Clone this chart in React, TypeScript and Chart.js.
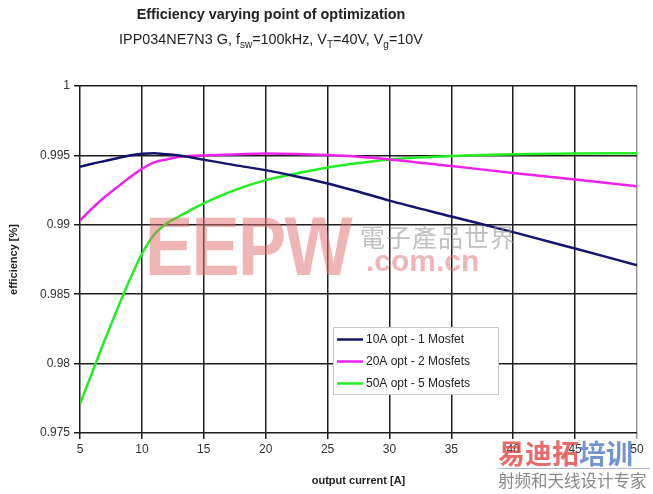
import React, { useEffect, useRef } from "react";
import { Chart, registerables } from "chart.js";

Chart.register(...registerables);

// Output current [A]
const currents = [5, 6, 7, 8, 9, 10, 11, 12, 13, 14, 15, 17.5, 20, 22.5, 25, 27.5, 30, 35, 40, 45, 50];
// 10A opt - 1 Mosfet
const opt10A = [0.99418, 0.9944, 0.9946, 0.9948, 0.995, 0.99512, 0.99515, 0.99508, 0.995, 0.99485, 0.99469, 0.9943, 0.99394, 0.99348, 0.99298, 0.99238, 0.99174, 0.9906, 0.98947, 0.98829, 0.98709];
// 20A opt - 2 Mosfets
const opt20A = [0.99031, 0.9912, 0.992, 0.9927, 0.9934, 0.99403, 0.9945, 0.9947, 0.9949, 0.99497, 0.995, 0.99507, 0.99514, 0.9951, 0.99502, 0.9949, 0.99471, 0.99423, 0.99374, 0.99327, 0.99278];
// 50A opt - 5 Mosfets
const opt50A = [0.9771, 0.9794, 0.9817, 0.9839, 0.986, 0.9879, 0.9893, 0.9901, 0.9906, 0.9911, 0.99155, 0.9925, 0.99322, 0.9937, 0.99413, 0.99445, 0.99471, 0.99495, 0.99509, 0.99514, 0.99515];

const seriesLabels = ["10A opt - 1 Mosfet", "20A opt - 2 Mosfets", "50A opt - 5 Mosfets"];
const seriesColors = ["#14146e", "#ee22ee", "#22ee22"];

const xTicks = [5, 10, 15, 20, 25, 30, 35, 40, 45, 50];
const yTicks = [0.975, 0.98, 0.985, 0.99, 0.995, 1];

const FONT = "'Liberation Sans', Arial, sans-serif";

const legendPlugin = {
  id: "boxLegend",
  afterDraw(chart: any) {
    const ctx = chart.ctx;
    const x = 333;
    const y = 327;
    const w = 165;
    const h = 67;
    ctx.save();
    ctx.fillStyle = "#ffffff";
    ctx.fillRect(x, y, w, h);
    ctx.strokeStyle = "#c8c8c8";
    ctx.lineWidth = 1;
    ctx.strokeRect(x + 0.5, y + 0.5, w, h);
    ctx.font = `12px ${FONT}`;
    ctx.textBaseline = "middle";
    chart.data.datasets.forEach((ds: any, i: number) => {
      const cy = y + 12.5 + i * 22;
      ctx.strokeStyle = ds.borderColor;
      ctx.lineWidth = 2.5;
      ctx.beginPath();
      ctx.moveTo(x + 4, cy);
      ctx.lineTo(x + 30, cy);
      ctx.stroke();
      ctx.fillStyle = "#222";
      ctx.fillText(ds.label, x + 33, cy);
    });
    ctx.restore();
  },
};

export default function App() {
  const canvasRef = useRef<HTMLCanvasElement | null>(null);

  useEffect(() => {
    if (!canvasRef.current) return;
    const mk = (vals: number[]) => currents.map((c, i) => ({ x: c, y: vals[i] }));
    const chart = new Chart(canvasRef.current, {
      type: "line",
      data: {
        datasets: [opt10A, opt20A, opt50A].map((vals, i) => ({
          label: seriesLabels[i],
          data: mk(vals),
          borderColor: seriesColors[i],
          backgroundColor: seriesColors[i],
          borderWidth: 2.5,
          pointRadius: 0,
          cubicInterpolationMode: "monotone" as const,
          fill: false,
        })),
      },
      options: {
        responsive: false,
        animation: false,
        layout: { padding: { left: 0, top: 86, right: 16, bottom: 0 } },
        plugins: {
          legend: { display: false },
          title: { display: false },
          tooltip: { enabled: false },
        },
        scales: {
          x: {
            type: "linear",
            min: 5,
            max: 50,
            afterBuildTicks: (s: any) => {
              s.ticks = xTicks.map((v) => ({ value: v }));
            },
            afterFit: (s: any) => {
              s.height = 61;
            },
            ticks: {
              color: "#333",
              font: { family: FONT, size: 12 },
              padding: 3,
              maxRotation: 0,
              callback: (v: any) => String(v),
            },
            grid: {
              color: (c: any) => (c.tick && c.tick.value === 50 ? "#9a9a9a" : "#1e1e1e"),
              lineWidth: 1.5,
              tickLength: 6,
            },
            border: { display: false },
            title: {
              display: true,
              text: "output current [A]",
              color: "#222",
              font: { family: FONT, size: 11, weight: "bold" },
              padding: { top: 4, bottom: 6 },
            },
          },
          y: {
            type: "linear",
            min: 0.975,
            max: 1,
            afterBuildTicks: (s: any) => {
              s.ticks = yTicks.map((v) => ({ value: v }));
            },
            afterFit: (s: any) => {
              s.width = 80;
            },
            ticks: {
              color: "#333",
              font: { family: FONT, size: 12 },
              padding: 4,
              callback: (v: any) => String(Number(Number(v).toFixed(3))),
            },
            grid: {
              color: "#1e1e1e",
              lineWidth: 1.5,
              tickLength: 6,
            },
            border: { display: false },
            title: {
              display: true,
              text: "efficiency [%]",
              color: "#222",
              font: { family: FONT, size: 11, weight: "bold" },
              padding: { top: 7, bottom: 4 },
            },
          },
        },
      },
      plugins: [legendPlugin],
    });
    return () => chart.destroy();
  }, []);

  return (
    <div style={{ position: "fixed", left: 0, top: 0, width: 653, height: 494, background: "#fff", overflow: "hidden", fontFamily: FONT }}>
      <canvas ref={canvasRef} width={653} height={494} style={{ position: "absolute", left: 0, top: 0 }} />
      <div style={{ position: "absolute", left: 271, top: 6, transform: "translateX(-50%)", whiteSpace: "nowrap", fontSize: 14.4, fontWeight: "bold", color: "#222" }}>
        Efficiency varying point of optimization
      </div>
      <div style={{ position: "absolute", left: 271, top: 31, transform: "translateX(-50%)", whiteSpace: "nowrap", fontSize: 14.4, color: "#222" }}>
        IPP034NE7N3 G, f<sub style={{ fontSize: 10 }}>sw</sub>=100kHz, V<sub style={{ fontSize: 10 }}>T</sub>=40V, V<sub style={{ fontSize: 10 }}>g</sub>=10V
      </div>
      {/* watermarks */}
      <div style={{ position: "absolute", left: 145, top: 196, whiteSpace: "nowrap", fontSize: 84, fontWeight: "bold", color: "rgba(225,110,110,0.5)", transform: "scaleX(0.86)", transformOrigin: "left top", lineHeight: "100px", letterSpacing: -2 }}>
        EEPW
      </div>
      <div style={{ position: "absolute", left: 360, top: 218, whiteSpace: "nowrap", fontSize: 25, color: "rgba(150,150,150,0.6)", fontFamily: "'Noto Sans CJK TC', sans-serif", letterSpacing: 1 }}>
        電子產品世界
      </div>
      <div style={{ position: "absolute", left: 366, top: 244, whiteSpace: "nowrap", fontSize: 30, fontWeight: "bold", color: "rgba(225,110,110,0.5)" }}>
        .com.cn
      </div>
      <div style={{ position: "absolute", left: 498, top: 437, whiteSpace: "nowrap", fontSize: 27, fontWeight: "bold", fontFamily: "'Noto Sans CJK SC', sans-serif", lineHeight: "32px" }}>
        <span style={{ color: "rgba(225,70,70,0.8)" }}>易迪拓</span>
        <span style={{ color: "rgba(80,120,200,0.8)" }}>培训</span>
      </div>
      <div style={{ position: "absolute", left: 498, top: 468, width: 152, borderTop: "1px solid rgba(120,140,200,0.6)" }} />
      <div style={{ position: "absolute", left: 498, top: 469, whiteSpace: "nowrap", fontSize: 16.5, color: "#888", fontFamily: "'Noto Sans CJK SC', sans-serif", lineHeight: "22px" }}>
        射频和天线设计专家
      </div>
    </div>
  );
}
